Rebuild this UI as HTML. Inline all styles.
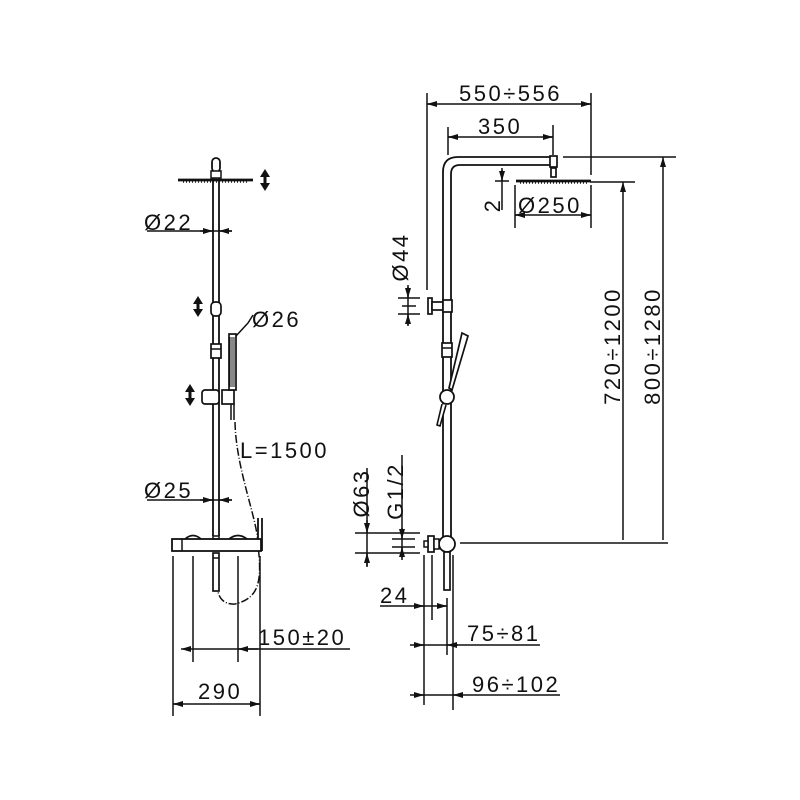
<!DOCTYPE html>
<html><head><meta charset="utf-8"><style>
html,body{margin:0;padding:0;background:#fff;}
svg{display:block;}
text{font-family:"Liberation Sans",sans-serif;font-size:22px;letter-spacing:2.5px;fill:#111;}
</style></head><body>
<svg width="800" height="800" viewBox="0 0 800 800" xmlns="http://www.w3.org/2000/svg">
<defs>
<marker id="a" viewBox="0 0 10 6" refX="10" refY="3" markerWidth="10" markerHeight="6" orient="auto-start-reverse" markerUnits="userSpaceOnUse"><path d="M0,0 L10,3 L0,6z" fill="#111"/></marker>
</defs>
<g stroke="#111" stroke-width="1.5" fill="none">
<!-- LEFT DRAWING -->
<path d="M213,175 V536 M219,175 V536" stroke-width="1.8"/>
<rect x="212" y="158" width="8" height="14" rx="4" fill="#fff" stroke-width="1.8"/>
<rect x="211" y="171" width="10" height="7" fill="#fff"/>
<path d="M178,180 H253" stroke-width="2.8"/>
<path d="M183,182 H248" stroke-dasharray="1,2"/>
<rect x="211" y="302" width="10" height="14" rx="4" fill="#fff" stroke-width="1.7"/>
<rect x="211" y="344" width="10" height="14" fill="#fff" stroke-width="1.7"/>
<path d="M211,349 H221"/>
<rect x="202" y="390" width="17" height="14" rx="3" fill="#fff" stroke-width="1.7"/>
<rect x="222" y="390" width="12" height="14" fill="#fff" stroke-width="1.7"/>
<rect x="229" y="334" width="7" height="56" fill="#fff" stroke-width="1.7"/>
<path d="M230,337 V387 M232,337 V387 M234,337 V387" stroke-width="1"/>
<path d="M231,404 V420 M234,404 V420"/>
<g fill="#111" stroke="none">
<path d="M265,169 L260,177 H263.5 V183 H260 L265,191 L270,183 H266.5 V177 H270z"/>
<path d="M198,296 L193,304 H196.5 V309 H193 L198,317 L203,309 H199.5 V304 H203z"/>
<path d="M190,384 L185,392 H188.5 V398 H185 L190,406 L195,398 H191.5 V392 H195z"/>
</g>
<path d="M147,231 H232" />
<path d="M200,231 H213" marker-end="url(#a)"/>
<path d="M232,231 H219" marker-end="url(#a)"/>
<path d="M236,336 L248,323 M248,323 L253,315"/>
<path d="M147,500 H232"/>
<path d="M200,500 H213" marker-end="url(#a)"/>
<path d="M232,500 H219" marker-end="url(#a)"/>
<path d="M235,422 C236,470 258,520 258,545 C262,580 260,598 235,604 C222,605 218,595 218,590" stroke-dasharray="8,2,1,2"/>
<rect x="172" y="539" width="89" height="12" fill="#fff" stroke-width="1.8"/>
<path d="M182,539 V551"/>
<path d="M185,539 Q193,532 201,539 M229,539 Q238,532 247,539" stroke-width="1.8"/>
<path d="M258,518 V539 M262,518 V551" stroke-width="1.8"/>
<rect x="213" y="536" width="6" height="3"/>
<rect x="213" y="553" width="6" height="38" fill="#fff" stroke-width="1.7"/>
<path d="M213,558 H219"/>
<path d="M173,556 V716 M193,556 V662 M238,556 V662 M260,556 V716"/>
<path d="M181,649 H193" marker-start="url(#a)"/>
<path d="M193,649 H350"/>
<path d="M258,649 H238" marker-end="url(#a)"/>
<path d="M173,704 H260"/>
<path d="M183,704 H173" marker-end="url(#a)"/>
<path d="M250,704 H260" marker-end="url(#a)"/>

<!-- RIGHT DRAWING -->
<path d="M443,540 V172 Q443,157 458,157 H550 M451,540 V174 Q451,165 460,165 H550" stroke-width="1.8"/>
<rect x="550" y="156" width="7" height="11" fill="#fff" stroke-width="1.7"/>
<rect x="551" y="168" width="5" height="9" fill="#fff" stroke-width="1.7"/>
<path d="M516,181 H591" stroke-width="2.8"/>
<path d="M520,183 H587" stroke-dasharray="1,2"/>
<rect x="428" y="298" width="4" height="16" fill="#fff" stroke-width="1.7"/>
<rect x="432" y="302" width="11" height="8" fill="#fff" stroke-width="1.7"/>
<rect x="443" y="300" width="9" height="12" fill="#fff" stroke-width="1.7"/>
<rect x="442" y="343" width="10" height="14" fill="#fff" stroke-width="1.7"/>
<path d="M442,348 H452"/>
<path d="M462,333 L468,336 L452,390 L449,388 z" fill="#fff" stroke-width="1.7"/>
<circle cx="447" cy="397" r="7" fill="#fff" stroke-width="1.8"/>
<path d="M442,404 L437,425 L440,426 L446,405" fill="#fff" stroke-width="1.6"/>
<circle cx="447" cy="544" r="8" fill="#fff" stroke-width="1.8"/>
<rect x="428" y="536" width="6" height="16" fill="#fff" stroke-width="1.7"/>
<rect x="424" y="541" width="4" height="6" fill="#fff"/>
<rect x="434" y="539" width="5" height="10" fill="#fff"/>
<rect x="444" y="552" width="6" height="38" fill="#fff" stroke-width="1.7"/>
<path d="M427,93 V290 M591,93 V175 M448,127 V155 M553,125 V155"/>
<path d="M427,104 H591"/>
<path d="M437,104 H427" marker-end="url(#a)"/>
<path d="M581,104 H591" marker-end="url(#a)"/>
<path d="M448,137 H553"/>
<path d="M458,137 H448" marker-end="url(#a)"/>
<path d="M543,137 H553" marker-end="url(#a)"/>
<path d="M563,157 H676 M590,182 H635"/>
<path d="M623,540 V182" marker-end="url(#a)"/>
<path d="M663,540 V157" marker-end="url(#a)"/>
<path d="M460,543 H668"/>
<path d="M502,168 V210"/>
<path d="M502,170 V181" marker-end="url(#a)"/>
<path d="M495,181 H509"/>
<path d="M515,185 V228 M591,185 V228 M515,215 H591"/>
<path d="M525,215 H515" marker-end="url(#a)"/>
<path d="M581,215 H591" marker-end="url(#a)"/>
<path d="M408,285 V326 M398,298 H420 M398,314 H420 M402,306 H416"/>
<path d="M408,287 V298" marker-end="url(#a)"/>
<path d="M408,325 V314" marker-end="url(#a)"/>
<path d="M367,468 V567 M355,533 H420 M355,553 H420 M402,455 V560 M392,539 H415 M392,547 H415"/>
<path d="M367,520 V533" marker-end="url(#a)"/>
<path d="M367,566 V553" marker-end="url(#a)"/>
<path d="M402,528 V539" marker-end="url(#a)"/>
<path d="M402,558 V547" marker-end="url(#a)"/>
<path d="M424,555 V705 M432,555 V620 M447,598 V655 M453,555 V710"/>
<path d="M380,606 H447"/>
<path d="M414,606 H424" marker-end="url(#a)"/>
<path d="M440,606 H447" marker-end="url(#a)"/>
<path d="M410,645 H540"/>
<path d="M414,645 H424" marker-end="url(#a)"/>
<path d="M458,645 H447" marker-end="url(#a)"/>
<path d="M410,695 H560"/>
<path d="M414,695 H424" marker-end="url(#a)"/>
<path d="M463,695 H453" marker-end="url(#a)"/>
</g>
<text x="144" y="230">Ø22</text>
<text x="252" y="327">Ø26</text>
<text x="240" y="458">L=1500</text>
<text x="144" y="498">Ø25</text>
<text x="258" y="645">150±20</text>
<text x="198" y="699">290</text>
<text x="459" y="101">550÷556</text>
<text x="478" y="134">350</text>
<text x="518" y="213">Ø250</text>
<text x="612" y="346" text-anchor="middle" transform="rotate(-90 612 346)" dy="8">720÷1200</text>
<text x="652" y="346" text-anchor="middle" transform="rotate(-90 652 346)" dy="8">800÷1280</text>
<text x="492" y="205" text-anchor="middle" transform="rotate(-90 492 205)" dy="8">2</text>
<text x="400" y="257" text-anchor="middle" transform="rotate(-90 400 257)" dy="8">Ø44</text>
<text x="361" y="493" text-anchor="middle" transform="rotate(-90 361 493)" dy="8">Ø63</text>
<text x="395" y="491" text-anchor="middle" transform="rotate(-90 395 491)" dy="8">G1/2</text>
<text x="380" y="603">24</text>
<text x="467" y="641">75÷81</text>
<text x="472" y="692">96÷102</text>
</svg>
</body></html>
